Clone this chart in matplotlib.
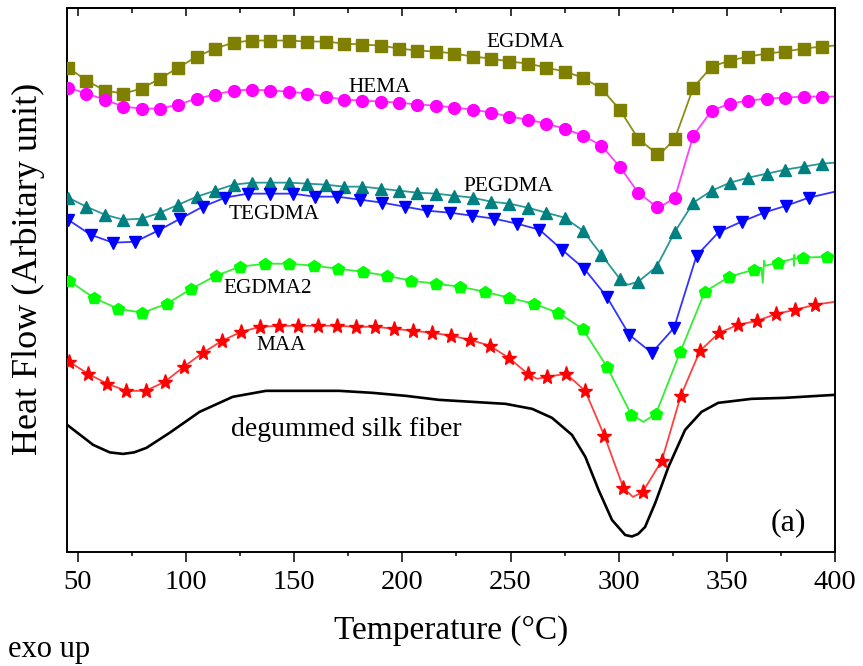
import numpy as np
import matplotlib.pyplot as plt
from matplotlib.ticker import MultipleLocator

plt.rcParams['font.family'] = ['Liberation Serif', 'DejaVu Serif']

# marker temperatures (deg C) for each curve
t_sq = [45.5, 54, 62.5, 71, 79.5, 88, 96.5, 105, 113.5, 122, 130.5, 139, 147.5, 156,
        164.5, 173, 181.5, 190, 198.5, 207, 215.5, 224, 232.5, 241, 249.5, 258, 266.5,
        275, 283.5, 292, 300.5, 309, 317.5, 326, 334.5, 343, 351.5, 360, 368.5, 377,
        385.5, 394]
t_teg = [45.5, 55.9, 66.3, 76.6, 87.0, 97.4, 107.8, 118.1, 128.5, 138.9, 149.3, 159.6,
         170.0, 180.4, 190.8, 201.1, 211.5, 221.9, 232.3, 242.6, 253.0, 263.4, 273.8,
         284.1, 294.5, 304.9, 315.3, 325.6, 336.0, 346.4, 356.8, 367.1, 377.5, 387.9]
t_eg2 = [46.0, 57.3, 68.6, 79.9, 91.2, 102.5, 113.8, 125.1, 136.4, 147.7, 159.0, 170.3,
         181.6, 192.9, 204.2, 215.5, 226.8, 238.1, 249.4, 260.7, 272.0, 283.3, 294.6,
         305.9, 317.2, 328.5, 339.8, 351.1, 362.4, 373.7, 385.0, 396.3]
t_maa = [46.0, 54.8, 63.7, 72.5, 81.3, 90.2, 99.0, 107.8, 116.7, 125.5, 134.4, 143.2,
         152.0, 160.9, 169.7, 178.5, 187.4, 196.2, 205.0, 213.9, 222.7, 231.5, 240.4,
         249.2, 258.0, 266.9, 275.7, 284.5, 293.4, 302.2, 311.1, 319.9, 328.7, 337.6,
         346.4, 355.2, 364.1, 372.9, 381.7, 390.6]

# heat flow (arbitrary unit)
egdma = [484, 471, 461, 458, 463, 473, 484, 495, 503, 509, 511, 511, 511, 510, 510, 508,
         507, 506, 503, 501, 500, 498, 495, 493, 490, 488, 484, 480, 474, 463, 442, 413,
         398, 413, 464, 485, 491, 495, 498, 500, 503, 505]
hema = [464, 458, 452, 445, 443, 443, 447, 453, 457, 461, 462, 461, 460, 458, 455, 452,
        451, 450, 449, 447, 446, 444, 442, 439, 435, 432, 428, 423, 416, 406, 385, 359,
        345, 354, 416, 441, 448, 451, 453, 454, 455, 455]
pegdma = [354, 345, 337, 332, 333, 339, 347, 355, 361, 367, 369, 369, 369, 368, 367, 365,
          365, 363, 361, 359, 358, 356, 354, 350, 348, 344, 339, 334, 321, 297, 273, 270,
          285, 320, 349, 361, 369, 374, 378, 382, 385, 388]
tegdma = [332, 317, 309, 310, 321, 333, 345, 354, 358, 358, 358, 355, 355, 352, 349, 345,
          341, 339, 336, 333, 328, 322, 302, 283, 255, 217, 199, 224, 296, 320, 330, 339,
          346, 354]
egdma2 = [271, 254, 243, 239, 248, 263, 276, 285, 288, 288, 286, 283, 280, 276, 271, 268,
          265, 260, 254, 248, 239, 223, 185, 137, 138, 200, 260, 275, 282, 289, 294, 295]
maa = [190, 178, 168, 161, 161, 170, 185, 199, 211, 220, 225, 226, 226, 226, 226, 225,
       225, 223, 221, 219, 216, 212, 206, 194, 178, 175, 178, 161, 116, 64, 60, 91, 156,
       201, 219, 227, 231, 238, 242, 247]

# extra points (between markers / line ends)
egdma_xt, egdma_xv = [318.5, 400], [396, 506]
hema_xt, hema_xv = [318.0, 400], [343, 455]
pegdma_xt, pegdma_xv = [304.2, 400], [267, 389]
tegdma_xt, tegdma_xv = [400], [360]
egdma2_xt = [311.5, 366.0, 366.6, 367.2, 367.8, 380.8, 381.0, 381.2, 381.4, 400]
egdma2_xv = [130, 284, 269, 291, 286, 293, 286, 297, 293, 296]
maa_xt, maa_xv = [262.3, 306.6, 400], [173, 55, 250]

# degummed silk fiber (no markers)
t_silk = [45.1, 57.1, 64.8, 70.9, 76.0, 81.7, 92.4, 106.3, 121.6, 137.0, 152.4, 170.8,
          186.2, 201.6, 216.9, 232.3, 247.7, 260.0, 269.2, 278.4, 284.6, 290.7, 296.9,
          303.0, 306.1, 309.0, 312.2, 316.9, 323.0, 330.7, 338.3, 346.0, 361.4, 376.8, 400]
silk = [127, 107, 99.5, 98, 99.5, 104, 119, 140, 155, 161, 161, 161, 159, 156, 152, 150,
        148, 143, 134, 117, 95, 62, 32, 17, 15.5, 18, 25, 49, 85, 122, 140, 149, 153, 154,
        157]

series = [
    (t_sq, egdma, egdma_xt, egdma_xv, 's', '#808000', '#8c8c1a', 8),
    (t_sq, hema, hema_xt, hema_xv, 'o', '#ff00ff', '#ff40ff', 8.5),
    (t_sq, pegdma, pegdma_xt, pegdma_xv, '^', '#008080', '#2a9696', 9),
    (t_teg, tegdma, tegdma_xt, tegdma_xv, 'v', '#0000ff', '#3333ff', 9),
    (t_eg2, egdma2, egdma2_xt, egdma2_xv, 'p', '#00ff00', '#33ee33', 9),
    (t_maa, maa, maa_xt, maa_xv, '*', '#ff0000', '#ff4040', 11),
]

fig, ax = plt.subplots(figsize=(8.63, 6.66), dpi=100)
fig.subplots_adjust(left=0.0776, right=0.9676, bottom=0.1712, top=0.988)

ax.plot(t_silk, silk, color='black', lw=1.9)

for t, v, xt, xv, mk, mcol, lcol, ms in series:
    lt = np.concatenate([t, xt])
    lv = np.concatenate([v, xv])
    order = np.argsort(lt)
    ax.plot(lt[order], lv[order], color=lcol, lw=1.3, zorder=2)
    ax.plot(t, v, ls='none', marker=mk, color=mcol, ms=ms, zorder=3)

# curve labels
ax.text(256.9, 508.7, 'EGDMA', fontsize=15.3, ha='center', va='center')
ax.text(189.3, 463.7, 'HEMA', fontsize=15.3, ha='center', va='center')
ax.text(249.2, 365.3, 'PEGDMA', fontsize=15.3, ha='center', va='center')
ax.text(140.8, 337, 'TEGDMA', fontsize=15.3, ha='center', va='center')
ax.text(137.8, 263.7, 'EGDMA2', fontsize=15.3, ha='center', va='center')
ax.text(143.9, 206, 'MAA', fontsize=15.3, ha='center', va='center')
ax.text(173.9, 122, 'degummed silk fiber', fontsize=20, ha='center', va='center')
ax.text(386.6, 29, '(a)', fontsize=23, ha='right', va='center')

ax.set_xlim(45, 400)
ax.set_ylim(0, 543.5)
ax.set_yticks([])
ax.xaxis.set_major_locator(MultipleLocator(50))
ax.xaxis.set_minor_locator(MultipleLocator(25))
ax.tick_params(axis='x', which='major', direction='out', length=7.2, width=1.1,
               labelsize=20.5, pad=6)
ax.tick_params(axis='x', which='minor', direction='out', length=3.1, width=1.1)
for s in ax.spines.values():
    s.set_linewidth(1.4)

top = ax.secondary_xaxis('top')
top.xaxis.set_major_locator(MultipleLocator(50))
top.xaxis.set_minor_locator(MultipleLocator(25))
top.tick_params(axis='x', which='major', direction='in', length=5.8, width=1.1,
                labeltop=False)
top.tick_params(axis='x', which='minor', direction='in', length=3.6, width=1.1)
top.spines['top'].set_linewidth(1.4)

ax.set_xlabel('Temperature (°C)', fontsize=24, labelpad=14)
ax.set_ylabel('Heat Flow (Arbitary unit)', fontsize=26)
ax.yaxis.set_label_coords(-0.0286, 0.52)
fig.text(8 / 863, 1 - 650 / 666, 'exo up', fontsize=22, ha='left', va='center')

plt.savefig('out.png')
